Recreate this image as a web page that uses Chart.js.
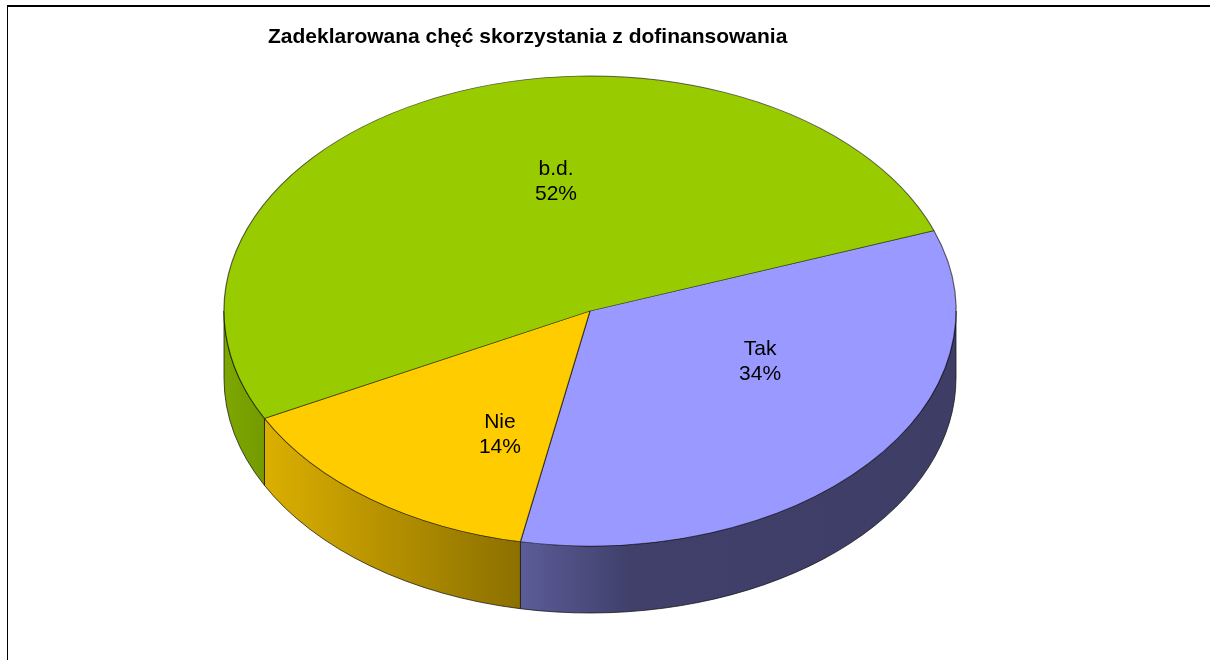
<!DOCTYPE html>
<html>
<head>
<meta charset="utf-8">
<script src="https://cdn.jsdelivr.net/npm/chart.js@4.4.1/dist/chart.umd.min.js"></script>
<style>
  html, body { margin: 0; padding: 0; background: #fff; }
  #wrap { position: absolute; left: 0; top: 0; width: 1210px; height: 660px; overflow: hidden; }
  #frame { position: absolute; left: 7px; top: 5px; width: 1300px; height: 800px; border-top: 2px solid #000; border-left: 1px solid #000; }
  #pieChart { position: absolute; left: 0; top: 0; }
</style>
</head>
<body>
<div id="wrap">
  <div id="frame"></div>
  <canvas id="pieChart" width="1210" height="660"></canvas>
</div>
<script>
// data, in Excel's slice order
const categories = ['Tak', 'Nie', 'b.d.'];
const shares = [33.6, 14.4, 52.0];
const chartTitle = 'Zadeklarowana chęć skorzystania z dofinansowania';

const sliceColors = ['#9999ff', '#ffcc00', '#99cc00'];

// tilted pie: ellipse on the page + height of the side wall
const tilt = { cx: 590, cy: 311, rx: 366, ry: 235, depth: 67 };
// shading of the side wall, left to right: [stop, brightness]
const wallShade = [
  [[0, 0.6], [0.25, 0.42], [1, 0.4]],
  [[0, 0.86], [1, 0.55]],
  [[0, 0.82], [1, 0.76]]
];
// how far out the label sits along the mid angle (x, y)
const labelReach = [[0.611, 0.334], [0.41, 0.66], [0.232, 0.599]];
const labelFont = '21px "Liberation Sans", Arial, sans-serif';

function shade(hex, f) {
  const n = parseInt(hex.slice(1), 16);
  const r = Math.round(((n >> 16) & 255) * f);
  const g = Math.round(((n >> 8) & 255) * f);
  const b = Math.round((n & 255) * f);
  return 'rgb(' + r + ',' + g + ',' + b + ')';
}

const pie3d = {
  id: 'pie3d',
  beforeDatasetsDraw(chart) {
    const ctx = chart.ctx;
    const arcs = chart.getDatasetMeta(0).data;
    const { cx, cy, rx, ry, depth } = tilt;
    // front walls (angles 0..PI are the lower half on screen)
    arcs.forEach((arc, i) => {
      const s = arc.startAngle, e = arc.endAngle;
      for (let k = -1; k <= 2; k++) {
        const lo = Math.max(s, 2 * Math.PI * k);
        const hi = Math.min(e, 2 * Math.PI * k + Math.PI);
        if (hi <= lo) continue;
        const xl = cx + rx * Math.cos(hi), xr = cx + rx * Math.cos(lo);
        const g = ctx.createLinearGradient(Math.min(xl, xr), 0, Math.max(xl, xr), 0);
        wallShade[i].forEach(([st, f]) => g.addColorStop(st, shade(sliceColors[i], f)));
        ctx.beginPath();
        ctx.ellipse(cx, cy, rx, ry, 0, lo, hi, false);
        ctx.lineTo(cx + rx * Math.cos(hi), cy + ry * Math.sin(hi) + depth);
        ctx.ellipse(cx, cy + depth, rx, ry, 0, hi, lo, true);
        ctx.closePath();
        ctx.fillStyle = g;
        ctx.fill();
        ctx.strokeStyle = 'rgba(20,20,20,0.75)';
        ctx.lineWidth = 1;
        ctx.stroke();
      }
    });
    // squash the library's round pie onto the ellipse
    const a0 = arcs[0];
    ctx.save();
    ctx.translate(cx, cy);
    ctx.scale(rx / a0.outerRadius, ry / a0.outerRadius);
    ctx.translate(-a0.x, -a0.y);
  },
  afterDatasetsDraw(chart) {
    const ctx = chart.ctx;
    ctx.restore();
    const arcs = chart.getDatasetMeta(0).data;
    const total = shares.reduce((a, b) => a + b, 0);
    const { cx, cy, rx, ry } = tilt;
    ctx.save();
    ctx.font = labelFont;
    ctx.fillStyle = '#000';
    ctx.textAlign = 'center';
    ctx.textBaseline = 'middle';
    arcs.forEach((arc, i) => {
      const mid = (arc.startAngle + arc.endAngle) / 2;
      const x = cx + rx * labelReach[i][0] * Math.cos(mid);
      const y = cy + ry * labelReach[i][1] * Math.sin(mid);
      ctx.fillText(categories[i], x, y - 12.5);
      ctx.fillText(Math.round(shares[i] / total * 100) + '%', x, y + 12.5);
    });
    ctx.restore();
  }
};

new Chart(document.getElementById('pieChart'), {
  type: 'pie',
  data: {
    labels: categories,
    datasets: [{
      data: shares,
      backgroundColor: sliceColors,
      borderColor: 'rgba(0,0,0,0.6)',
      borderWidth: 1,
      clip: false
    }]
  },
  options: {
    responsive: false,
    devicePixelRatio: 1,
    animation: false,
    events: [],
    rotation: 70,
    layout: { padding: { left: 268, top: 0, right: 0, bottom: 0 } },
    plugins: {
      legend: { display: false },
      tooltip: { enabled: false },
      title: {
        display: true,
        text: chartTitle,
        align: 'start',
        color: '#000',
        font: { family: '"Liberation Sans", Arial, sans-serif', size: 21, weight: 'bold' },
        padding: { top: 25, bottom: 10 }
      }
    }
  },
  plugins: [pie3d]
});
</script>
</body>
</html>
